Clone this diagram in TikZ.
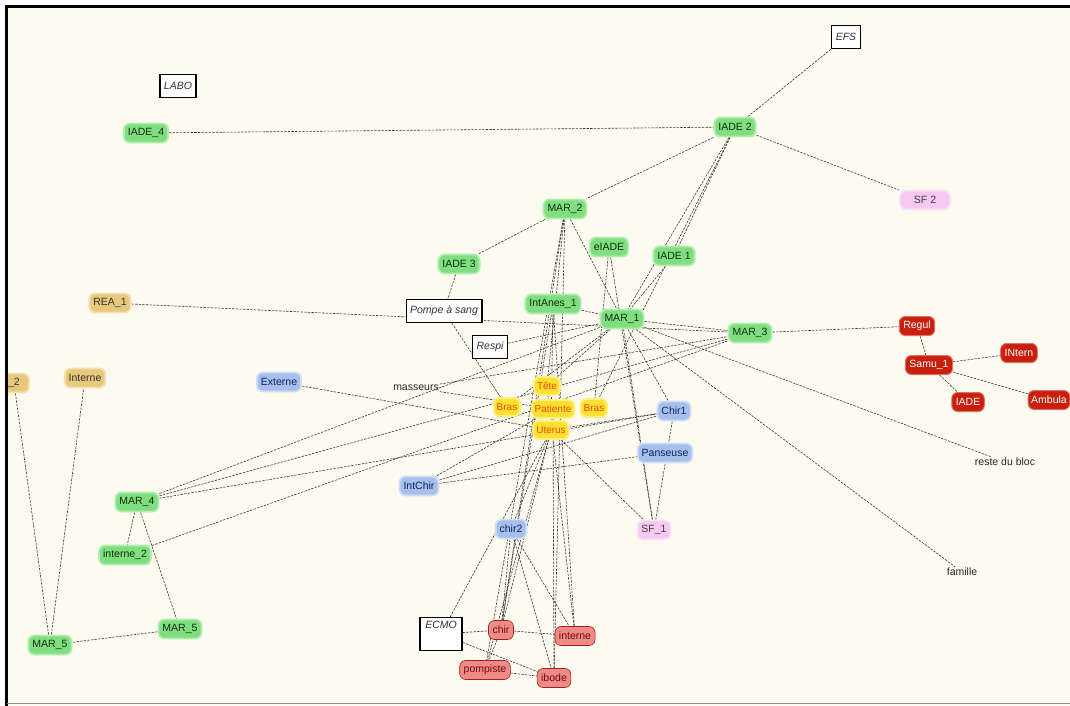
\documentclass[tikz,border=0pt]{standalone}
\usepackage{fontspec}
\setmainfont{Liberation Sans}
\pgfdeclarelayer{bg}\pgfdeclarelayer{edges}\pgfsetlayers{bg,edges,main}
\definecolor{paper}{HTML}{FDFBF0}
\definecolor{gfill}{HTML}{80DE80}
\definecolor{gglow}{HTML}{B0EEB0}
\definecolor{gtext}{HTML}{0C300C}
\definecolor{tfill}{HTML}{E8C87C}
\definecolor{tglow}{HTML}{F4E0B0}
\definecolor{bfill}{HTML}{A6BFEC}
\definecolor{bglow}{HTML}{D0DEF6}
\definecolor{btext}{HTML}{10245A}
\definecolor{pfill}{HTML}{F8C8F2}
\definecolor{pglow}{HTML}{FCE2F8}
\definecolor{yfill}{HTML}{FFE030}
\definecolor{yglow}{HTML}{FFEE80}
\definecolor{ytext}{HTML}{E0500A}
\definecolor{rdfill}{HTML}{C8200E}
\definecolor{rdglow}{HTML}{E07060}
\definecolor{rlfill}{HTML}{F08A86}
\definecolor{rlline}{HTML}{A02020}
\definecolor{rltext}{HTML}{6A0C0C}
\definecolor{edgec}{HTML}{383838}
\tikzset{
  base/.style={rounded corners=6pt, minimum height=19pt, inner xsep=4pt, inner ysep=2pt,
    line width=1.8pt, font=\fontsize{10.5}{11}\selectfont},
  gn/.style={base, fill=gfill, draw=gglow, text=gtext},
  tn/.style={base, fill=tfill, draw=tglow, text=black!80},
  bn/.style={base, fill=bfill, draw=bglow, text=btext},
  pn/.style={base, fill=pfill, draw=pglow, text=black!75},
  yn/.style={base, fill=yfill, draw=yglow, text=ytext, minimum height=18pt, inner xsep=3pt, font=\fontsize{10}{11}\selectfont},
  rdn/.style={base, fill=rdfill, draw=rdglow, text=white, line width=1pt},
  rln/.style={base, fill=rlfill, draw=rlline, text=rltext, line width=0.6pt},
  boxn/.style={draw=black, line width=1.3pt, fill=white, font=\fontsize{10.5}{11}\selectfont\itshape,
    inner xsep=4pt, minimum height=23pt, text=black!80},
  txt/.style={font=\fontsize{10.5}{11}\selectfont, text=black!85, inner sep=1pt},
  e/.style={draw=edgec, line width=0.6pt, dash pattern=on 2.4pt off 1.2pt}
}
\begin{document}
\begin{tikzpicture}[x=1pt,y=-1pt]
\useasboundingbox (0,0) rectangle (1070,706);
\begin{pgfonlayer}{bg}
\fill[paper] (0,0) rectangle (1070,706);
\end{pgfonlayer}
% nodes
\node[boxn] (labo) at (178,86) {LABO};
\node[boxn] (efs) at (846,37) {EFS};
\node[gn] (iade4) at (146,133) {IADE\_4};
\node[gn] (iade2) at (735,127) {IADE 2};
\node[pn, minimum width=50pt] (sf2) at (925,200) {SF 2};
\node[gn] (mar2) at (565,209) {MAR\_2};
\node[gn] (elade) at (609,247) {eIADE};
\node[gn] (iade1) at (674,256) {IADE 1};
\node[gn] (iade3) at (459,264) {IADE 3};
\node[tn] (rea1) at (110,303) {REA\_1};
\node[boxn] (pompe) at (444,311) {Pompe à sang};
\node[gn] (intanes) at (553,304) {IntAnes\_1};
\node[gn] (mar1) at (622,319) {MAR\_1};
\node[gn] (mar3) at (750,333) {MAR\_3};
\node[rdn] (regul) at (917,326) {Regul};
\node[rdn] (samu) at (929,365) {Samu\_1};
\node[rdn] (intern) at (1019,353) {INtern};
\node[rdn] (iader) at (968,402) {IADE};
\node[rdn, inner xsep=3pt] (ambula) at (1049,400) {Ambula};
\node[boxn] (respi) at (490,347) {Respi};
\node[tn, minimum width=30pt] (rea2) at (14,383) {\_2};
\node[tn] (internet) at (85,378) {Interne};
\node[bn] (externe) at (279,382) {Externe};
\node[txt] (masseurs) at (416,388) {masseurs};
\node[yn] (tete) at (547,386) {Tête};
\node[yn] (brasl) at (507,407) {Bras};
\node[yn] (brasr) at (594,408) {Bras};
\node[yn] (uterus) at (551,430) {Uterus};
\node[yn] (patiente) at (553,409) {Patiente};
\node[bn] (chir1) at (674,411) {Chir1};
\node[bn] (panseuse) at (665,453) {Panseuse};
\node[bn] (intchir) at (419,486) {IntChir};
\node[txt] (reste) at (1005,462) {reste du bloc};
\node[gn] (mar4) at (137,502) {MAR\_4};
\node[pn] (sf1) at (654,530) {SF\_1};
\node[bn] (chir2) at (511,529) {chir2};
\node[gn] (interne2) at (125,555) {interne\_2};
\node[txt] (famille) at (962,572) {famille};
\node[gn] (mar5r) at (180,629) {MAR\_5};
\node[gn] (mar5l) at (50,645) {MAR\_5};
\node[boxn, minimum width=42pt, text height=8pt, text depth=19pt, inner ysep=3pt] (ecmo) at (441,634) {ECMO};
\node[rln] (chir) at (501,630) {chir};
\node[rln] (interne) at (575,636) {interne};
\node[rln] (pompiste) at (485,670) {pompiste};
\node[rln] (ibode) at (554,678) {ibode};
% edges
\begin{pgfonlayer}{edges}
\draw[e] (iade4) -- (iade2);
\draw[e] (iade2) -- (efs);
\draw[e] (iade2) -- (sf2);
\draw[e] (iade2) -- (mar2);
\draw[e] (iade2) -- (iade1);
\draw[e] (iade2) -- (mar1);
\draw[e] (iade2) -- (brasr);
\draw[e] (mar2) -- (iade3);
\draw[e] (mar2) -- (mar1);
\draw[e] (mar2) -- (tete);
\draw[e] (mar2) -- (chir);
\draw[e] (mar2) -- (pompiste);
\draw[e] (mar2) -- (ibode);
\draw[e] (elade) -- (brasr);
\draw[e] (elade) -- (sf1);
\draw[e] (iade1) -- (mar1);
\draw[e] (intanes) -- (mar1);
\draw[e] (intanes) -- (uterus);
\draw[e] (intanes) -- (chir);
\draw[e] (intanes) -- (interne);
\draw[e] (mar1) -- (mar3);
\draw[e] (mar1) -- (reste);
\draw[e] (mar1) -- (famille);
\draw[e] (mar1) -- (chir1);
\draw[e] (mar1) -- (sf1);
\draw[e] (mar1) -- (tete);
\draw[e] (mar1) -- (brasl);
\draw[e] (mar3) -- (regul);
\draw[e] (regul) -- (samu);
\draw[e] (samu) -- (intern);
\draw[e] (samu) -- (iader);
\draw[e] (samu) -- (ambula);
\draw[e] (rea1) -- (mar3);
\draw[e] (iade3) -- (pompe);
\draw[e] (pompe) -- (brasl);
\draw[e] (respi) -- (mar1);
\draw[e] (masseurs) -- (mar3);
\draw[e] (masseurs) -- (patiente);
\draw[e] (externe) -- (uterus);
\draw[e] (mar4) -- (mar3);
\draw[e] (mar4) -- (mar1);
\draw[e] (mar4) -- (chir1);
\draw[e] (interne2) -- (mar3);
\draw[e] (mar4) -- (interne2);
\draw[e] (mar4) -- (mar5r);
\draw[e] (mar5r) -- (mar5l);
\draw[e] (mar5l) -- (rea2);
\draw[e] (mar5l) -- (internet);
\draw[e] (intchir) -- (chir1);
\draw[e] (intchir) -- (panseuse);
\draw[e] (intchir) -- (patiente);
\draw[e] (chir1) -- (sf1);
\draw[e] (uterus) -- (sf1);
\draw[e] (chir1) -- (uterus);
\draw[e] (chir2) -- (uterus);
\draw[e] (chir2) -- (chir);
\draw[e] (chir2) -- (interne);
\draw[e] (chir2) -- (ibode);
\draw[e] (ecmo) -- (uterus);
\draw[e] (ecmo) -- (chir);
\draw[e] (ecmo) -- (ibode);
\draw[e] (chir) -- (interne);
\draw[e] (pompiste) -- (ibode);
\draw[e] (chir) -- (pompiste);
\draw[e] (interne) -- (tete);
\draw[e] (ibode) -- (patiente);
\draw[e] (chir) -- (uterus);
\draw[e] (pompiste) -- (uterus);
\end{pgfonlayer}
% frame
\fill[white] (0,0) rectangle (5,706);
\fill[white] (0,0) rectangle (1070,5);
\draw[black, line width=3pt] (6.5,706) -- (6.5,6.5) -- (1070,6.5);
\draw[black!45, line width=1.2pt] (6.5,703.5) -- (1070,703.5);
\end{tikzpicture}
\end{document}
